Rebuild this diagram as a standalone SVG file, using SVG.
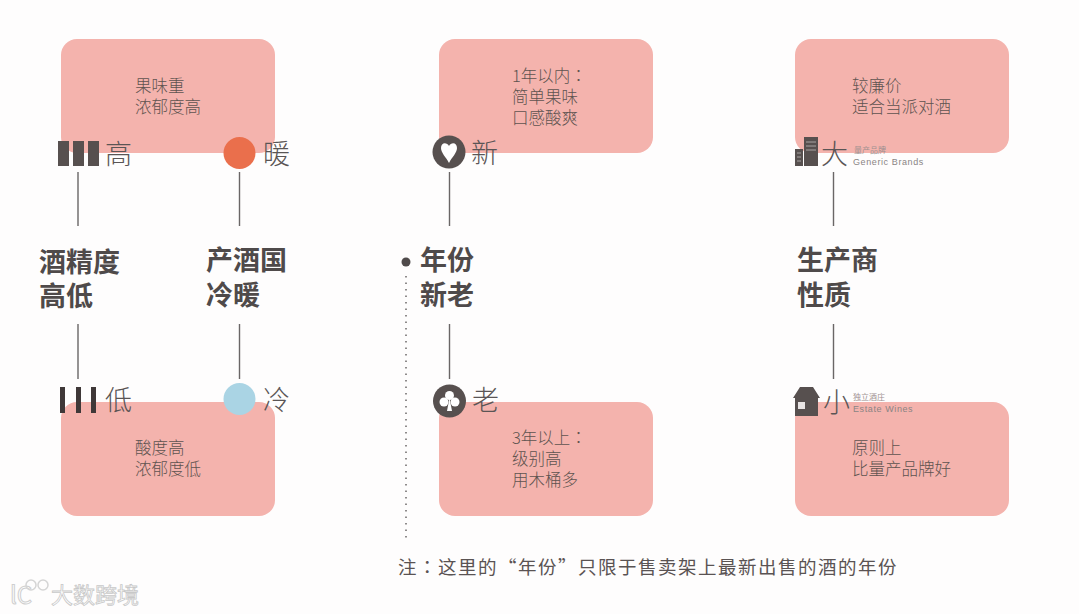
<svg xmlns="http://www.w3.org/2000/svg" width="1079" height="614" viewBox="0 0 1079 614">
<style>
text{font-family:"Noto Sans CJK SC","Noto Sans",sans-serif;fill:#5a5353}
.card{fill:#f4b3ad}
.body{font-size:16.500px;font-weight:300;fill:#5f5350}
.lab{font-size:27px;font-weight:300;fill:#5a5555}
.title{font-size:27px;font-weight:700;fill:#4f4a4a}
.icon{fill:#57504f}
.ln{stroke:#6a6666;stroke-width:1.400;fill:none}
.en{font-family:"Liberation Sans",sans-serif;font-size:9px;fill:#8a8484;letter-spacing:.6px}
.cn{font-size:8px;fill:#a09090}
.c{font-family:"Noto Sans CJK TC",sans-serif}
</style>
<rect width="1079" height="614" fill="#fefdfd"/>
<g id="connectors">
<path class="ln" d="M78 172V226M78 324V379M239.500 172V226M239.500 324V379M449.500 172V226M449.500 324V379M833.500 172V226M833.500 324V379"/>
<path d="M406 276V540" stroke="#6a6666" stroke-width="1.500" stroke-dasharray="1.500 5" fill="none"/>
</g>
<g id="card-fruit"><rect class="card" x="61" y="39" width="214" height="114" rx="16"/><text class="body" x="135" y="92">果味重</text><text class="body" x="135" y="113">浓郁度高</text></g>
<g id="card-acid"><rect class="card" x="61" y="402" width="214" height="114" rx="16"/><text class="body" x="135" y="454">酸度高</text><text class="body" x="135" y="475">浓郁度低</text></g>
<g id="card-young"><rect class="card" x="439" y="39" width="214" height="114" rx="16"/><text class="body" x="512" y="82">1年以内<tspan class="c">：</tspan></text><text class="body" x="512" y="103">简单果味</text><text class="body" x="512" y="124">口感酸爽</text></g>
<g id="card-old"><rect class="card" x="439" y="402" width="214" height="114" rx="16"/><text class="body" x="512" y="444">3年以上<tspan class="c">：</tspan></text><text class="body" x="512" y="465">级别高</text><text class="body" x="512" y="486">用木桶多</text></g>
<g id="card-cheap"><rect class="card" x="795" y="39" width="214" height="114" rx="16"/><text class="body" x="852" y="92">较廉价</text><text class="body" x="852" y="113">适合当派对酒</text></g>
<g id="card-good"><rect class="card" x="795" y="402" width="214" height="114" rx="16"/><text class="body" x="852" y="454">原则上</text><text class="body" x="852" y="475">比量产品牌好</text></g>
<g id="alc-high"><rect class="icon" x="58" y="141" width="11" height="25"/><rect class="icon" x="73" y="141" width="11" height="25"/><rect class="icon" x="88" y="141" width="11" height="25"/><text class="lab" x="105" y="164">高</text></g>
<g id="alc-low"><rect x="60" y="387" width="5" height="26" fill="#3f3838"/><rect x="76" y="387" width="5" height="26" fill="#3f3838"/><rect x="91" y="387" width="5" height="26" fill="#3f3838"/><text class="lab" x="105" y="410">低</text></g>
<g id="warm"><circle cx="239.500" cy="153" r="16" fill="#ea6f4c"/><text class="lab" x="263" y="164">暖</text></g>
<g id="cold"><circle cx="239.500" cy="399" r="16" fill="#aad4e4"/><text class="lab" x="263" y="410">冷</text></g>
<g id="new"><circle class="icon" cx="449" cy="152" r="16.500"/><path d="M449 163C446 157 441 153 441 148C441 142 447 142 449 146C451 142 457 142 457 148C457 153 452 157 449 163Z" fill="#fff"/><text class="lab" x="471" y="163">新</text></g>
<g id="old"><circle class="icon" cx="449.500" cy="401" r="16.500"/><circle cx="449.500" cy="395.500" r="4.500" fill="#fff"/><circle cx="444" cy="402" r="4.500" fill="#fff"/><circle cx="455" cy="402" r="4.500" fill="#fff"/><path d="M449.500 398L452 411H447Z" fill="#fff"/><text class="lab" x="472" y="410">老</text></g>
<g id="big"><rect class="icon" x="795" y="149" width="8" height="17"/><rect class="icon" x="804" y="137" width="14" height="29"/><path d="M806 142H816M806 146H816M806 150H816M797 153H801M797 157H801M797 161H801" stroke="#a9a3a3" stroke-width="1"/><text class="lab" x="821" y="164">大</text><text class="cn" x="854" y="153">量产品牌</text><text class="en" x="853" y="165">Generic Brands</text></g>
<g id="small"><path class="icon" d="M800 387H813L820 398H818V416H795V398H793Z"/><rect x="798" y="402" width="7" height="7" fill="#e8e4e4"/><text class="lab" x="823" y="412">小</text><text class="cn" x="853" y="400">独立酒庄</text><text class="en" x="853" y="412">Estate Wines</text></g>
<g id="t-alc"><text class="title" x="39" y="272">酒精度</text><text class="title" x="39" y="306">高低</text></g>
<g id="t-country"><text class="title" x="206" y="270">产酒国</text><text class="title" x="206" y="305">冷暖</text></g>
<g id="t-year"><circle cx="406" cy="262" r="4.500" fill="#4f4a4a"/><text class="title" x="420" y="270">年份</text><text class="title" x="420" y="305">新老</text></g>
<g id="t-prod"><text class="title" x="797" y="270">生产商</text><text class="title" x="797" y="305">性质</text></g>
<g id="note"><text x="398" y="574" font-size="18.500" letter-spacing="1.500" fill="#5a5353">注<tspan class="c">：</tspan>这里的<tspan class="c">“</tspan>年份<tspan class="c">”</tspan>只限于售卖架上最新出售的酒的年份</text></g>
<g id="watermark"><text x="10" y="604" font-size="24" style="fill:#fff;stroke:#cfcfcf;stroke-width:1">lC</text><circle cx="31" cy="585" r="5" fill="none" stroke="#d5d5d5" stroke-width="1.500"/><circle cx="43" cy="585" r="5" fill="none" stroke="#d5d5d5" stroke-width="1.500"/><text x="51" y="603" font-size="22" style="fill:#fff;stroke:#c8c8c8;stroke-width:.8">大数跨境</text></g>
</svg>
